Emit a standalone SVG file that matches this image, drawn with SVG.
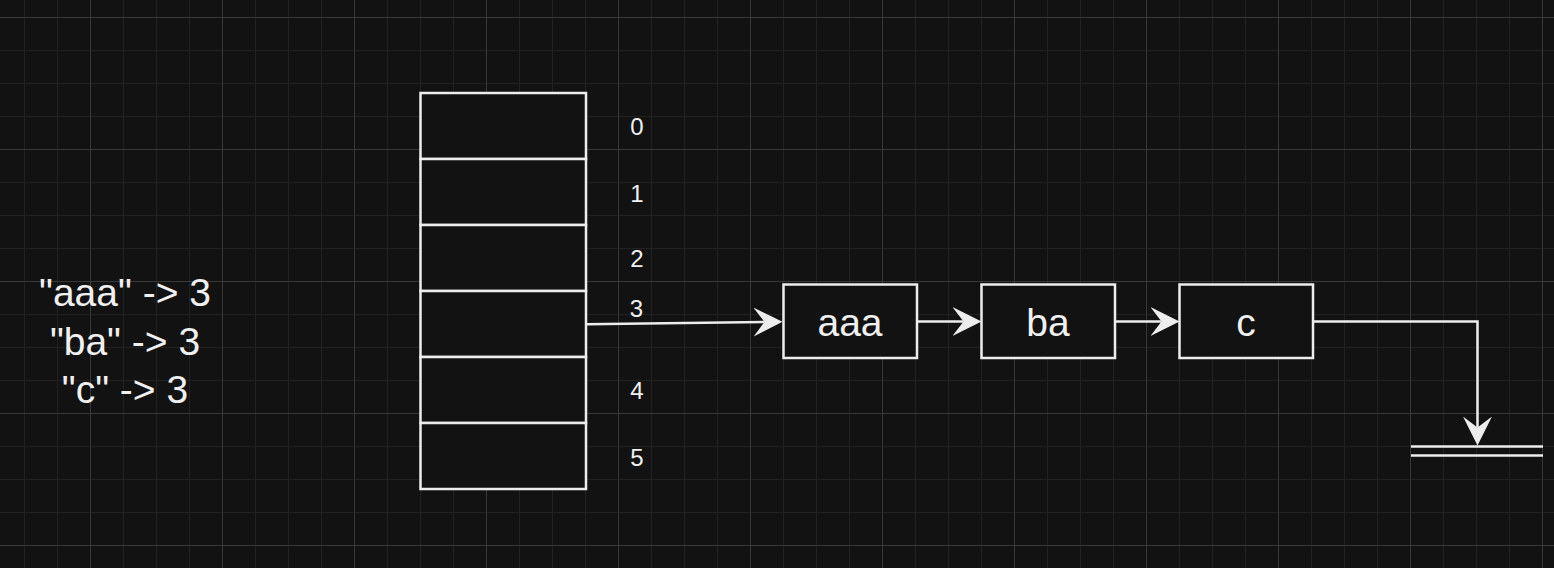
<svg xmlns="http://www.w3.org/2000/svg" width="1554" height="568" viewBox="0 0 1554 568">
  <defs>
    <pattern id="grid" x="90" y="17" width="132" height="132" patternUnits="userSpaceOnUse">
      <path d="M33.5,0V132M66.5,0V132M99.5,0V132M0,33.5H132M0,66.5H132M0,99.5H132" stroke="#212121" stroke-width="1" fill="none"/>
      <path d="M0.5,0V132M0,0.5H132" stroke="#383838" stroke-width="1" fill="none"/>
    </pattern>
    <marker id="arrow" markerUnits="userSpaceOnUse" markerWidth="30" markerHeight="30" viewBox="0 0 30 30" refX="11" refY="14.5" orient="auto">
      <path d="M0,0 L29,14.5 L0,29 L11,14.5 Z" fill="#ededed"/>
    </marker>
    <style>
      .box { fill: #121212; stroke: #ededed; stroke-width: 2.5; }
      .edge { fill: none; stroke: #ededed; stroke-width: 2.5; }
      .big { font-family: "Liberation Sans", Arial, sans-serif; font-size: 39px; fill: #f0f0f0; text-anchor: middle; }
      .small { font-family: "Liberation Sans", Arial, sans-serif; font-size: 24px; fill: #f0f0f0; text-anchor: middle; }
    </style>
  </defs>
  <rect width="1554" height="568" fill="#121212"/>
  <rect width="1554" height="568" fill="url(#grid)"/>

  <g id="mapping">
    <text class="big" x="125" y="306">"aaa" -&gt; 3</text>
    <text class="big" x="125" y="354.5">"ba" -&gt; 3</text>
    <text class="big" x="125" y="403">"c" -&gt; 3</text>
  </g>

  <g id="table">
    <rect id="row0" class="box" x="420.5" y="93" width="165.5" height="66"/>
    <rect id="row1" class="box" x="420.5" y="159" width="165.5" height="66"/>
    <rect id="row2" class="box" x="420.5" y="225" width="165.5" height="66"/>
    <rect id="row3" class="box" x="420.5" y="291" width="165.5" height="66"/>
    <rect id="row4" class="box" x="420.5" y="357" width="165.5" height="66"/>
    <rect id="row5" class="box" x="420.5" y="423" width="165.5" height="66"/>
  </g>

  <g id="indices">
    <text class="small" x="637" y="135">0</text>
    <text class="small" x="637" y="201.5">1</text>
    <text class="small" x="637" y="267">2</text>
    <text class="small" x="637" y="399">4</text>
    <text class="small" x="637" y="465.5">5</text>
  </g>

  <g id="node-aaa">
    <rect class="box" x="783.5" y="284.5" width="133.5" height="73.5"/>
    <text class="big" x="850" y="336">aaa</text>
  </g>
  <g id="node-ba">
    <rect class="box" x="981.5" y="284.5" width="133.5" height="73.5"/>
    <text class="big" x="1048" y="336">ba</text>
  </g>
  <g id="node-c">
    <rect class="box" x="1179.5" y="284.5" width="133.5" height="73.5"/>
    <text class="big" x="1246" y="336">c</text>
  </g>

  <g id="ground">
    <path class="edge" d="M1411,446.5H1543M1411,455.5H1543"/>
  </g>

  <g id="connectors">
    <path class="edge" d="M586,324.3 L764.5,321.9" marker-end="url(#arrow)"/>
    <text class="small" x="636.5" y="316.5">3</text>
    <path class="edge" d="M917,321.5 H963.5" marker-end="url(#arrow)"/>
    <path class="edge" d="M1115,321.5 H1161.5" marker-end="url(#arrow)"/>
    <path class="edge" d="M1313,321.5 H1477.5 V427.5" marker-end="url(#arrow)"/>
  </g>
</svg>
